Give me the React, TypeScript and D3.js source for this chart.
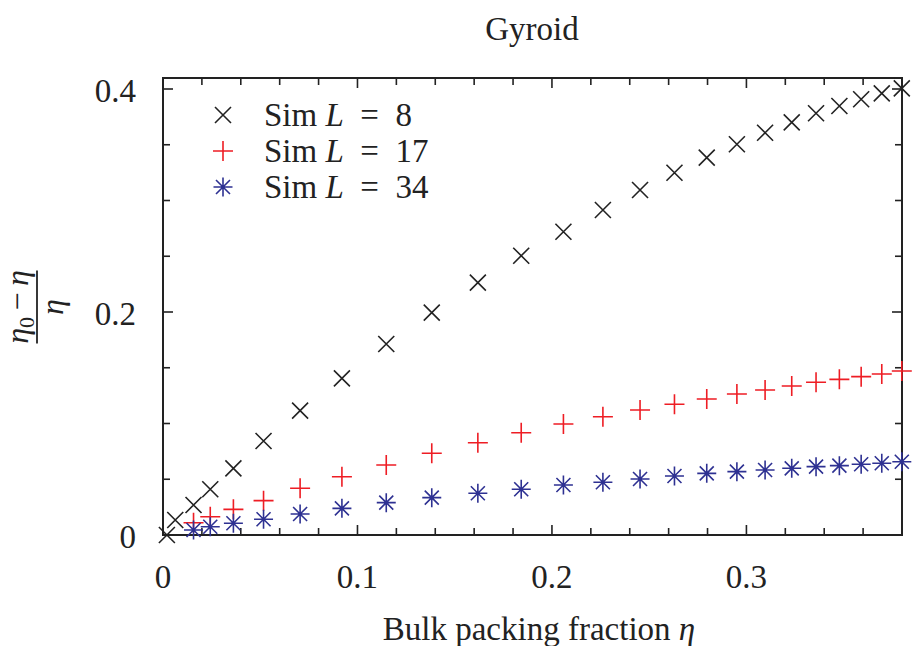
import React, { useEffect, useRef } from 'react';
import * as d3 from 'd3';

// bulk packing fraction eta
const etaL8 = [0.002, 0.0063, 0.0157, 0.0243, 0.0362, 0.0517, 0.0705, 0.092, 0.1148, 0.1382, 0.1619, 0.1842, 0.2059, 0.2262, 0.2453, 0.263, 0.2796, 0.2951, 0.3096, 0.3233, 0.3358, 0.3478, 0.359, 0.3696, 0.3799];
const valL8 = [0, 0.0135, 0.0269, 0.041, 0.0598, 0.0843, 0.1115, 0.1405, 0.1713, 0.1994, 0.2263, 0.2505, 0.272, 0.2915, 0.3094, 0.3249, 0.3384, 0.3504, 0.3608, 0.3701, 0.3782, 0.3848, 0.3908, 0.3961, 0.4006];

const etaL = [0.0157, 0.0243, 0.0362, 0.0517, 0.0705, 0.092, 0.1148, 0.1382, 0.1619, 0.1842, 0.2059, 0.2262, 0.2453, 0.263, 0.2796, 0.2951, 0.3096, 0.3233, 0.3358, 0.3478, 0.359, 0.3696, 0.3799];
const valL17 = [0.011, 0.0164, 0.023, 0.0308, 0.0419, 0.0523, 0.0628, 0.0733, 0.0828, 0.0917, 0.0996, 0.1061, 0.1121, 0.1172, 0.122, 0.1265, 0.13, 0.1336, 0.137, 0.1396, 0.142, 0.1444, 0.1471];
const valL34 = [0.0045, 0.0074, 0.0105, 0.0141, 0.0188, 0.0239, 0.029, 0.0335, 0.0374, 0.041, 0.0448, 0.0473, 0.0502, 0.0529, 0.0553, 0.0568, 0.0583, 0.0598, 0.0613, 0.0622, 0.0634, 0.0643, 0.0657];

const xTickLabels = [0, 0.1, 0.2, 0.3];
const yTickLabels = [0, 0.2, 0.4];

const series = [
  { L: '8', x: etaL8, y: valL8, color: '#222222', marker: 'cross' },
  { L: '17', x: etaL, y: valL17, color: '#ee1d24', marker: 'plus' },
  { L: '34', x: etaL, y: valL34, color: '#2e3192', marker: 'star' },
];

const FONT = '"Liberation Serif", "DejaVu Serif", serif';
const FS = 33;

const markerPath = (type: string) => {
  const p = d3.path();
  if (type === 'cross') {
    const d = 8;
    p.moveTo(-d, -d); p.lineTo(d, d);
    p.moveTo(-d, d); p.lineTo(d, -d);
  }
  if (type === 'star') {
    const d = 7;
    p.moveTo(-d, -d); p.lineTo(d, d);
    p.moveTo(-d, d); p.lineTo(d, -d);
  }
  if (type === 'plus' || type === 'star') {
    const s = type === 'plus' ? 10 : 9.5;
    p.moveTo(-s, 0); p.lineTo(s, 0);
    p.moveTo(0, -s); p.lineTo(0, s);
  }
  return p.toString();
};

const App = () => {
  const svgRef = useRef(null);

  useEffect(() => {
    const width = 912;
    const height = 646;
    const left = 163;
    const right = 902;
    const top = 78;
    const bottom = 535;

    const svg = d3.select(svgRef.current);
    svg.selectAll('*').remove();
    svg.attr('width', width).attr('height', height);

    const x = d3.scaleLinear().domain([0, 0.38]).range([left, right]);
    const y = d3.scaleLinear().domain([0, 0.4]).range([bottom, 89]);

    const g = svg.append('g');

    // ticks on all four sides
    const xTicks = d3.range(0, 0.3801, 0.02);
    const yTicks = d3.range(0, 0.4001, 0.05);
    const isMajor = (v: number, vals: number[]) => vals.some(t => Math.abs(t - v) < 1e-6);

    xTicks.forEach(t => {
      const len = isMajor(t, xTickLabels) ? 10 : 7;
      g.append('line').attr('x1', x(t)).attr('x2', x(t)).attr('y1', bottom).attr('y2', bottom - len)
        .attr('stroke', '#222').attr('stroke-width', 1.6);
      g.append('line').attr('x1', x(t)).attr('x2', x(t)).attr('y1', top).attr('y2', top + len)
        .attr('stroke', '#222').attr('stroke-width', 1.6);
    });
    yTicks.forEach(t => {
      const len = isMajor(t, yTickLabels) ? 10 : 7;
      g.append('line').attr('x1', left).attr('x2', left + len).attr('y1', y(t)).attr('y2', y(t))
        .attr('stroke', '#222').attr('stroke-width', 1.6);
      g.append('line').attr('x1', right).attr('x2', right - len).attr('y1', y(t)).attr('y2', y(t))
        .attr('stroke', '#222').attr('stroke-width', 1.6);
    });

    g.append('rect')
      .attr('x', left).attr('y', top).attr('width', right - left).attr('height', bottom - top)
      .attr('fill', 'none').attr('stroke', '#222').attr('stroke-width', 2);

    g.selectAll('.xlab').data(xTickLabels).enter().append('text')
      .attr('x', d => x(d)).attr('y', 588)
      .attr('text-anchor', 'middle').attr('font-family', FONT).attr('font-size', FS).attr('fill', '#222')
      .text(d => String(d));

    g.selectAll('.ylab').data(yTickLabels).enter().append('text')
      .attr('x', 136).attr('y', d => y(d) + 12.5)
      .attr('text-anchor', 'end').attr('font-family', FONT).attr('font-size', FS).attr('fill', '#222')
      .text(d => String(d));

    // data markers
    series.forEach(s => {
      g.append('g').selectAll('path').data(s.x).enter().append('path')
        .attr('transform', (d, i) => `translate(${x(d)},${y(s.y[i])})`)
        .attr('d', markerPath(s.marker))
        .attr('fill', 'none').attr('stroke', s.color).attr('stroke-width', 1.6);
    });

    // legend
    const leg = g.append('g');
    series.forEach((s, i) => {
      const ly = 115 + i * 36;
      leg.append('path').attr('transform', `translate(223,${ly})`)
        .attr('d', markerPath(s.marker))
        .attr('fill', 'none').attr('stroke', s.color).attr('stroke-width', 1.6);
      const t = leg.append('text').attr('x', 264).attr('y', ly + 11)
        .attr('font-family', FONT).attr('font-size', FS).attr('fill', '#222');
      t.append('tspan').text('Sim ');
      t.append('tspan').attr('font-style', 'italic').text('L');
      t.append('tspan').text(`\u2002=\u2002${s.L}`);
    });

    // title
    g.append('text').attr('x', 532).attr('y', 40).attr('text-anchor', 'middle')
      .attr('font-family', FONT).attr('font-size', FS).attr('fill', '#222').text('Gyroid');

    // x label
    const xl = g.append('text').attr('x', 539).attr('y', 640).attr('text-anchor', 'middle')
      .attr('font-family', FONT).attr('font-size', FS).attr('fill', '#222');
    xl.append('tspan').text('Bulk packing fraction ');
    xl.append('tspan').attr('font-style', 'italic').text('η');

    // y label as fraction
    const yl = g.append('g').attr('transform', 'translate(37,307) rotate(-90)');
    const num = yl.append('text').attr('x', 0).attr('y', -9).attr('text-anchor', 'middle')
      .attr('font-family', FONT).attr('font-size', 32).attr('fill', '#222');
    num.append('tspan').attr('font-style', 'italic').text('η');
    num.append('tspan').attr('font-size', 22).attr('dy', 6).text('0');
    num.append('tspan').attr('dy', -6).text('\u2009−\u2009');
    num.append('tspan').attr('font-style', 'italic').text('η');
    yl.append('line').attr('x1', -36.5).attr('x2', 36.5).attr('y1', 0).attr('y2', 0)
      .attr('stroke', '#222').attr('stroke-width', 1.8);
    yl.append('text').attr('x', 0).attr('y', 26).attr('text-anchor', 'middle')
      .attr('font-family', FONT).attr('font-size', 32).attr('font-style', 'italic').attr('fill', '#222').text('η');
  }, []);

  return <svg ref={svgRef} style={{ position: 'absolute', left: 0, top: 0, background: '#fff' }}></svg>;
};

export default App;
